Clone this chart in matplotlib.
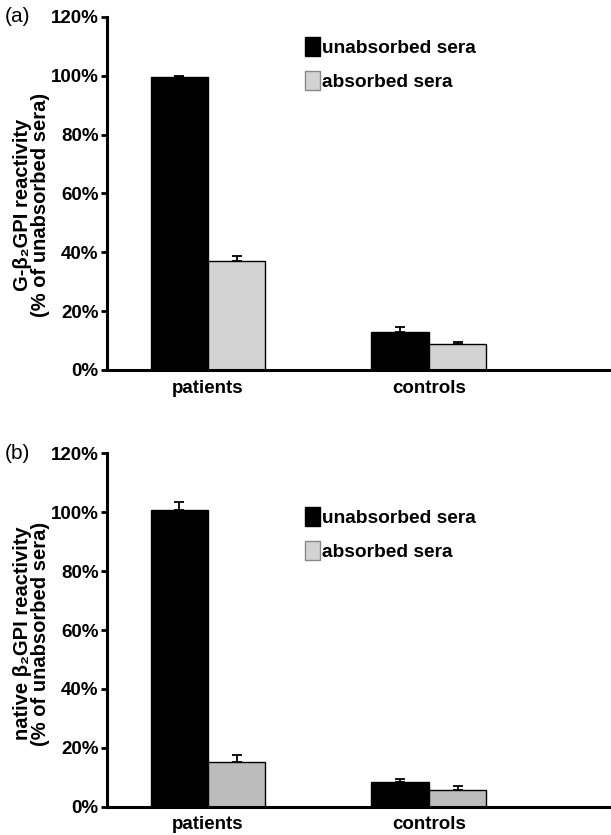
import numpy as np
import matplotlib
matplotlib.use("Agg")
import matplotlib.pyplot as plt

plt.rcParams['font.family'] = ['Liberation Sans', 'DejaVu Sans']

groups = ['patients', 'controls']
series = ['unabsorbed sera', 'absorbed sera']

# panel (a): G-beta2GPI
a_unabs = [99.5, 13.0]
a_unabs_err = [0.5, 1.5]
a_abs = [37.2, 8.9]
a_abs_err = [1.4, 0.7]

# panel (b): native beta2GPI
b_unabs = [100.7, 8.3]
b_unabs_err = [2.7, 1.0]
b_abs = [15.1, 5.7]
b_abs_err = [2.5, 1.3]

yticks = [0, 20, 40, 60, 80, 100, 120]

fig = plt.figure(figsize=(6.11, 8.35), dpi=100)

panels = [
    ('(a)', 'G-β₂GPI reactivity\n(% of unabsorbed sera)', a_unabs, a_unabs_err, a_abs, a_abs_err,
     '#d3d3d3', [0.1751, 0.5569, 0.8249, 0.4228], 0.943, 0.467),
    ('(b)', 'native β₂GPI reactivity\n(% of unabsorbed sera)', b_unabs, b_unabs_err, b_abs, b_abs_err,
     '#bcbcbc', [0.1751, 0.0339, 0.8249, 0.4232], 0.849, 0.49),
]

x = np.arange(len(groups))
w = 0.26

for tag, ylab, unabs, unabs_err, ab, ab_err, gcol, rect, legy, laby in panels:
    ax = fig.add_axes(rect)
    ekw = dict(linewidth=1.3, capthick=1.3, ecolor='black')
    b1 = ax.bar(x - w / 2, unabs, w, color='black', edgecolor='black', linewidth=1,
                yerr=[np.zeros(2), unabs_err], capsize=3.5, error_kw=ekw, label=series[0])
    b2 = ax.bar(x + w / 2, ab, w, color=gcol, edgecolor='black', linewidth=1,
                yerr=[np.zeros(2), ab_err], capsize=3.5, error_kw=ekw, label=series[1])
    ax.set_xlim(-0.457, 1.824)
    ax.set_ylim(0, 120)
    ax.set_yticks(yticks)
    ax.set_yticklabels(['%d%%' % t for t in yticks], fontsize=13.5, fontweight='bold')
    ax.set_xticks(x)
    ax.set_xticklabels(groups, fontsize=13.5, fontweight='bold')
    ax.tick_params(axis='x', length=0, pad=7)
    ax.tick_params(axis='y', length=4, width=2, direction='out', pad=2)
    for s in ['top', 'right']:
        ax.spines[s].set_visible(False)
    for s in ['left', 'bottom']:
        ax.spines[s].set_linewidth(2.2)
    ax.set_ylabel(ylab, fontsize=14.5, fontweight='bold', linespacing=0.92, va='center')
    ax.yaxis.set_label_coords(-0.149, laby)
    ax.text(-0.203, 1.0, tag, transform=ax.transAxes, fontsize=15, ha='left', va='center')
    leg = ax.legend(handles=[b1, b2], loc='upper left', bbox_to_anchor=(0.393, legy),
                    frameon=False, prop={'weight': 'bold', 'size': 13.8},
                    handlelength=0.8, handleheight=1.15, handletextpad=0.1,
                    labelspacing=0.75, borderpad=0, borderaxespad=0)
    leg.legend_handles[1].set_edgecolor('#888888')
    leg.legend_handles[1].set_facecolor('#d3d3d3')

fig.savefig('out.png', dpi=100)
